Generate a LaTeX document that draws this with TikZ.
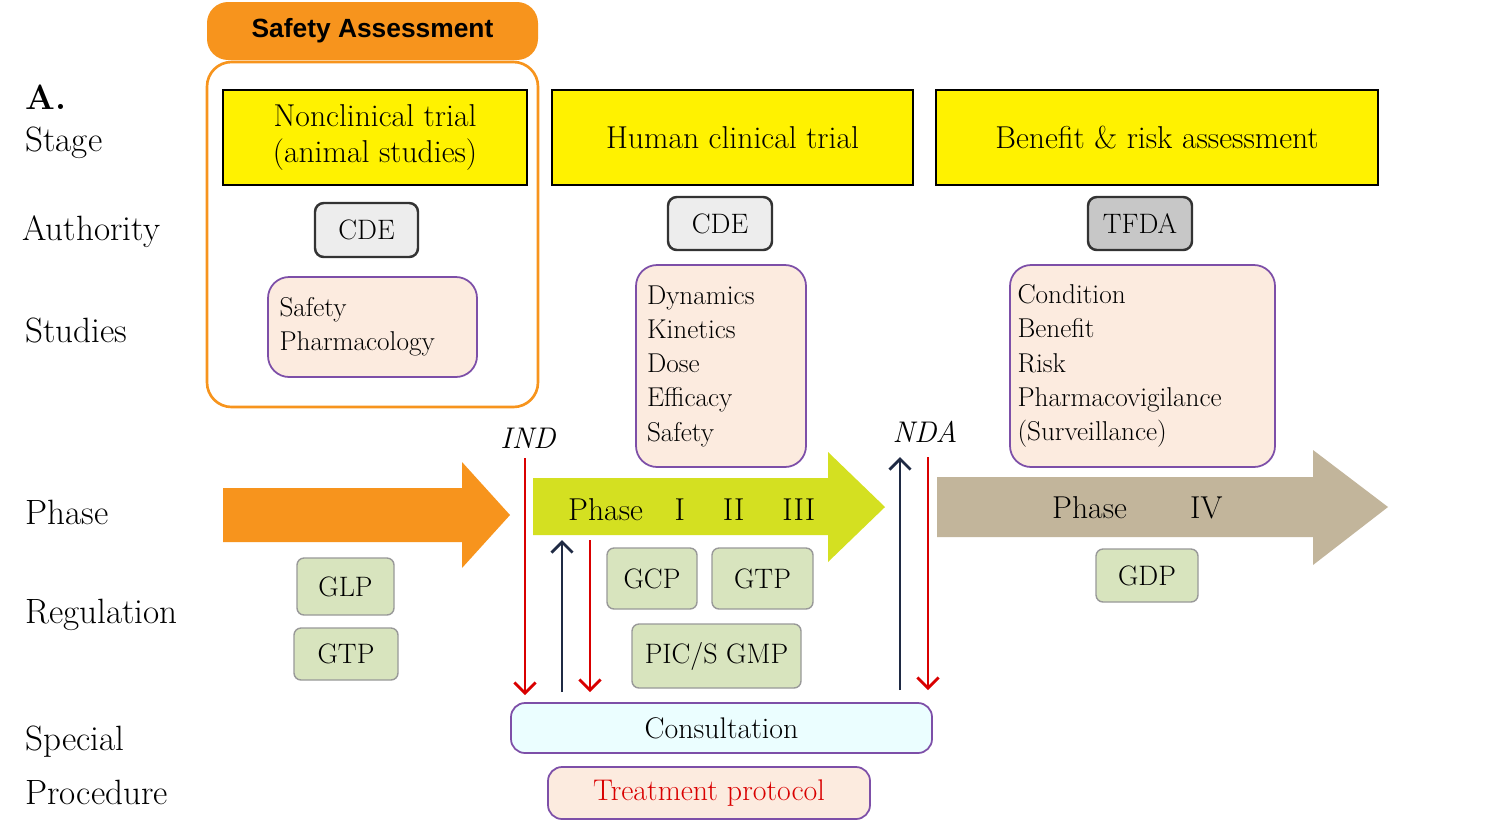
\documentclass[tikz,border=0pt]{standalone}
\usepackage{fontspec}
\newfontfamily\sansf{Liberation Sans}
\begin{document}
\begin{tikzpicture}[x=0.02cm,y=-0.02cm,
 lab/.style={anchor=west,font=\fontsize{20}{22}\selectfont,inner sep=0},
 stagebox/.style={draw=black,line width=1.2pt,fill=stageY,align=center,font=\fontsize{18}{21}\selectfont},
 auth/.style={draw=black!80,line width=1.4pt,rounded corners=5pt,font=\fontsize{16}{18}\selectfont},
 study/.style={draw=studyB,line width=1pt,rounded corners=12pt,fill=studyF,align=left,font=\fontsize{15.5}{19.5}\selectfont,inner sep=0},
 reg/.style={draw=black!40,line width=0.8pt,rounded corners=4pt,fill=regF,font=\fontsize{16}{18}\selectfont,inner sep=0},
 redar/.style={draw=red!85!black,line width=1.6pt,-{Straight Barb[length=6pt,width=12pt]}},
 navar/.style={draw=navy,line width=1.6pt,-{Straight Barb[length=6pt,width=12pt]}}]
\definecolor{stageY}{HTML}{FFF200}
\definecolor{studyF}{HTML}{FCEBDF}
\definecolor{studyB}{HTML}{7D4FA8}
\definecolor{regF}{HTML}{D8E4BE}
\definecolor{orgA}{HTML}{F7941D}
\definecolor{grnA}{HTML}{D4E021}
\definecolor{tanA}{HTML}{C2B59B}
\definecolor{navy}{HTML}{1F2A44}
\useasboundingbox[fill=white] (0,0) rectangle (1500,833);
\usetikzlibrary{arrows.meta}
% safety assessment
\node[fill=orgA,rounded corners=12pt,minimum width=331*0.02cm,minimum height=58*0.02cm,font=\sansf\bfseries\fontsize{15}{17}\selectfont] (sa) at (372.5,31) {Safety Assessment};
\draw[orgA,line width=1.5pt,rounded corners=14pt] (207,62) rectangle (538,407);
% left labels
\node[lab,font=\bfseries\fontsize{20}{22}\selectfont] (la) at (25,97) {A.};
\node[lab] (l1) at (25,143) {Stage};
\node[lab] (l2) at (22,232) {Authority};
\node[lab] (l3) at (25,330) {Studies};
\node[lab] (l4) at (25,512) {Phase};
\node[lab] (l5) at (25,615) {Regulation};
\node[lab] (l6) at (25,742) {Special};
\node[lab] (l7) at (25,792) {Procedure};
% stages
\node[stagebox,minimum width=304*0.02cm,minimum height=95*0.02cm] (s1) at (375,137.5) {Nonclinical trial\\(animal studies)};
\node[stagebox,minimum width=361*0.02cm,minimum height=95*0.02cm] (s2) at (732.5,137.5) {Human clinical trial};
\node[stagebox,minimum width=442*0.02cm,minimum height=95*0.02cm] (s3) at (1157,137.5) {Benefit \& risk assessment};
% authority
\node[auth,fill=black!7,minimum width=103*0.02cm,minimum height=54*0.02cm] (a1) at (366.5,230) {CDE};
\node[auth,fill=black!7,minimum width=104*0.02cm,minimum height=53*0.02cm] (a2) at (720,223.5) {CDE};
\node[auth,fill=black!22,minimum width=104*0.02cm,minimum height=53*0.02cm] (a3) at (1140,223.5) {TFDA};
% studies
\node[study,minimum width=209*0.02cm,minimum height=100*0.02cm,text width=186*0.02cm] (t1) at (372.5,327) {Safety\\Pharmacology};
\node[study,minimum width=170*0.02cm,minimum height=202*0.02cm,text width=148*0.02cm] (t2) at (721,366) {Dynamics\\Kinetics\\Dose\\Efficacy\\Safety};
\node[study,minimum width=265*0.02cm,minimum height=202*0.02cm,text width=250*0.02cm] (t3) at (1142.5,366) {Condition\\Benefit\\Risk\\Pharmacovigilance\\(Surveillance)};
% phase arrows
\fill[orgA] (223,488) -- (462,488) -- (462,462) -- (510,515) -- (462,568) -- (462,542) -- (223,542) -- cycle;
\fill[grnA] (533,478) -- (828,478) -- (828,452) -- (885,507) -- (828,562) -- (828,535) -- (533,535) -- cycle;
\fill[tanA] (937,477) -- (1313,477) -- (1313,450) -- (1388,507) -- (1313,565) -- (1313,537) -- (937,537) -- cycle;
\node[font=\fontsize{18}{20}\selectfont,anchor=west] (p1) at (562,510) {Phase\hspace{1em}I\hspace{1.2em}II\hspace{1.2em}III};
\node[font=\fontsize{18}{20}\selectfont,anchor=west] (p2) at (1046,508) {Phase\hspace{2em}IV};
\node[font=\itshape\fontsize{17}{19}\selectfont] (ind) at (528,438) {IND};
\node[font=\itshape\fontsize{17}{19}\selectfont] (nda) at (925,432) {NDA};
% regulation
\node[reg,minimum width=97*0.02cm,minimum height=57*0.02cm] (g1) at (345.5,586.5) {GLP};
\node[reg,minimum width=104*0.02cm,minimum height=52*0.02cm] (g2) at (346,654) {GTP};
\node[reg,minimum width=90*0.02cm,minimum height=61*0.02cm] (g3) at (652,578.5) {GCP};
\node[reg,minimum width=101*0.02cm,minimum height=61*0.02cm] (g4) at (762.5,578.5) {GTP};
\node[reg,minimum width=169*0.02cm,minimum height=64*0.02cm] (g5) at (716.5,656) {PIC/S GMP};
\node[reg,minimum width=102*0.02cm,minimum height=53*0.02cm] (g6) at (1147,575.5) {GDP};
% special
\node[draw=studyB,line width=1pt,rounded corners=8pt,fill=blue!6!cyan!8,minimum width=421*0.02cm,minimum height=50*0.02cm,font=\fontsize{17}{19}\selectfont,inner sep=0] (c1) at (721.5,728) {Consultation};
\node[draw=studyB,line width=1pt,rounded corners=8pt,fill=studyF,minimum width=322*0.02cm,minimum height=52*0.02cm,font=\fontsize{17}{19}\selectfont,text=red!85!black,inner sep=0] (c2) at (709,793) {Treatment protocol};
% vertical arrows
\coordinate (r1a) at (525,458); \coordinate (r1b) at (525,695);
\coordinate (n1a) at (562,692); \coordinate (n1b) at (562,540);
\coordinate (r2a) at (590,540); \coordinate (r2b) at (590,692);
\coordinate (n2a) at (900,690); \coordinate (n2b) at (900,457);
\coordinate (r3a) at (928,457); \coordinate (r3b) at (928,690);
\draw[redar] (r1a) -- (r1b);
\draw[navar] (n1a) -- (n1b);
\draw[redar] (r2a) -- (r2b);
\draw[navar] (n2a) -- (n2b);
\draw[redar] (r3a) -- (r3b);
\end{tikzpicture}
\end{document}
